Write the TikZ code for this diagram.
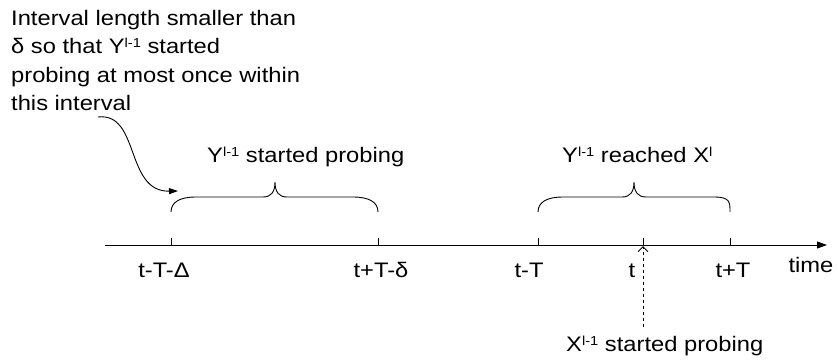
\documentclass[tikz,border=0pt]{standalone}
\usepackage{fontspec}
\setmainfont{Liberation Sans}[FakeStretch=1.13]
\usetikzlibrary{arrows.meta}
\newcommand{\supx}[1]{\raisebox{6pt}{\fontsize{13}{13}\selectfont #1}}
\begin{document}
\begin{tikzpicture}[x=1pt,y=-1pt,font=\fontsize{21}{28.5}\selectfont,
  lbl/.style={inner sep=0pt,anchor=base},
  txt/.style={inner sep=0pt,anchor=base west},
  ln/.style={line width=0.9pt},
  tick/.style={line width=0.9pt},
  bracepath/.style={line width=0.9pt}]
\useasboundingbox (0,0) rectangle (838,360);
% axis
\coordinate (ax0) at (105,245);
\coordinate (ax1) at (827,245);
\draw[ln,-{Triangle[length=10pt,width=7pt]}] (ax0) -- (ax1);
% ticks
\foreach \n/\x in {a/171,b/378,c/538,d/643,e/730}{
  \coordinate (t\n) at (\x,245);
  \coordinate (u\n) at (\x,238);
  \draw[tick] (t\n) -- (u\n);
}
% tick labels
\node[lbl] (la) at (164,277) {t-T-Δ};
\node[lbl] (lb) at (381,277) {t+T-δ};
\node[lbl] (lc) at (529,277) {t-T};
\node[lbl] (ld) at (632,277) {t};
\node[lbl] (le) at (733,277) {t+T};
\node[lbl] (time) at (811,272) {time};
% braces
\draw[bracepath] (171,212) .. controls (171,202) and (180,197) .. (196,197)
  -- (263,197) .. controls (271,197) and (275,192) .. (275,182)
  .. controls (275,192) and (279,197) .. (287,197)
  -- (353,197) .. controls (369,197) and (378,202) .. (378,212);
\draw[bracepath] (538,212) .. controls (538,202) and (547,197) .. (563,197)
  -- (622,197) .. controls (630,197) and (634,192) .. (634,182)
  .. controls (634,192) and (638,197) .. (646,197)
  -- (714,197) .. controls (730,197) and (730,202) .. (730,212);
% brace labels
\node[txt] (bl1) at (207,162) {Y\supx{l-1} started probing};
\node[txt] (bl2) at (562,162) {Y\supx{l-1} reached X\supx{l}};
% note
\node[txt] (n1) at (11,25) {Interval length smaller than};
\node[txt] (n2) at (11,53.5) {δ so that Y\supx{l-1} started};
\node[txt] (n3) at (11,82) {probing at most once within};
\node[txt] (n4) at (11,110.5) {this interval};
\coordinate (cs) at (98,117);
\coordinate (ce) at (178,191);
\draw[ln,-{Triangle[length=9pt,width=6pt]}] (cs) .. controls (140,112) and (125,192) .. (ce);
% X label and dashed arrow
\node[txt] (xl) at (566,351) {X\supx{l-1} started probing};
\coordinate (dx) at (643,327);
\draw[ln,dashed,-{Straight Barb[length=5pt,width=10pt]}] (dx) -- (643,246);
\end{tikzpicture}
\end{document}
